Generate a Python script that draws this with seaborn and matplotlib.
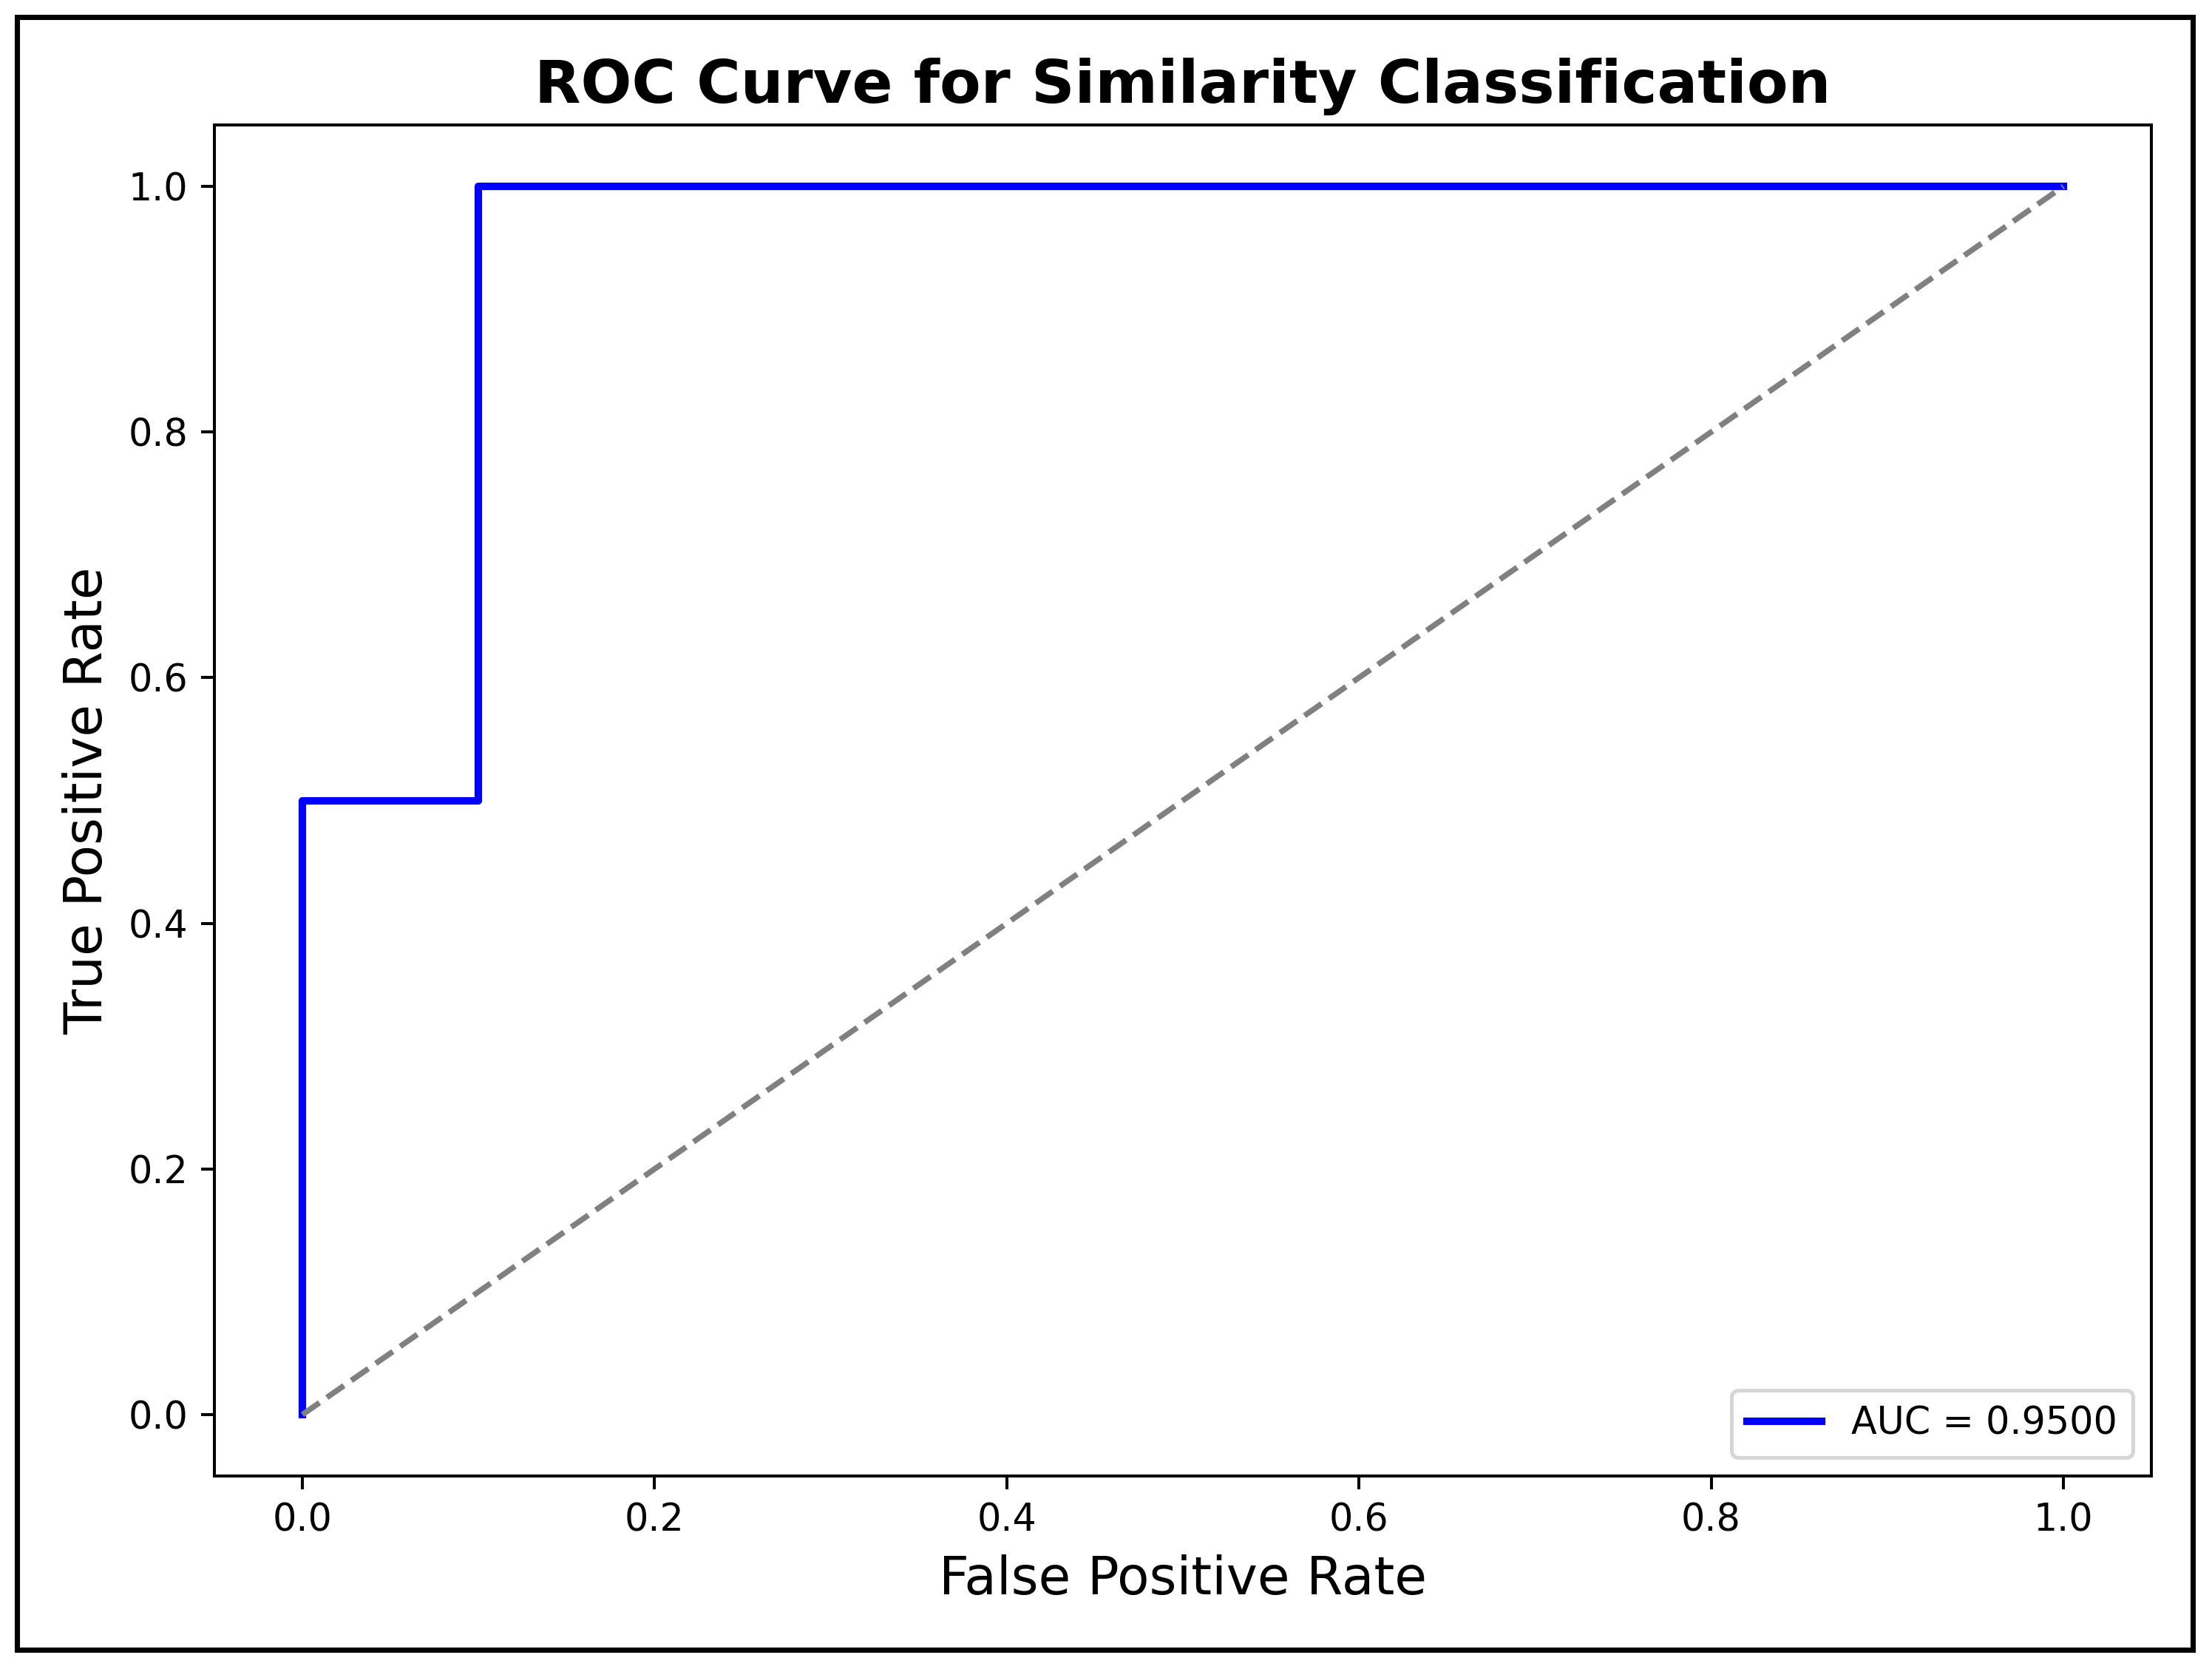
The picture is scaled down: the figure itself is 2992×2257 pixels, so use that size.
import matplotlib
matplotlib.use("Agg")
import matplotlib.pyplot as plt
from matplotlib.patches import Rectangle
import seaborn as sns
import pandas as pd

# ROC data
fpr = [0.0, 0.0, 0.1, 0.1, 1.0]
tpr = [0.0, 0.5, 0.5, 1.0, 1.0]
auc_value = 0.95
chance_x = [0.0, 1.0]
chance_y = [0.0, 1.0]
ticks = [0.0, 0.2, 0.4, 0.6, 0.8, 1.0]

plt.rcParams['font.family'] = ['DejaVu Sans']

W, H = 2993, 2257
DPI = 365
fig = plt.figure(figsize=(W / DPI, H / DPI), dpi=DPI)
fig.patch.set_facecolor('white')

left, right, top, bottom = 290, 2910, 169, 1996
ax = fig.add_axes([left / W, 1 - bottom / H, (right - left) / W, (bottom - top) / H])

df = pd.DataFrame({'fpr': fpr, 'tpr': tpr})
sns.lineplot(data=df, x='fpr', y='tpr', sort=False, estimator=None,
             color='blue', lw=2, label=f'AUC = {auc_value:.4f}', ax=ax)
ax.plot(chance_x, chance_y, color='gray', linestyle='--', lw=1.5)

ax.set_xlim(-0.05, 1.05)
ax.set_ylim(-0.05, 1.05)
ax.set_xticks(ticks)
ax.set_yticks(ticks)
ax.set_xlabel('False Positive Rate', fontsize=14)
ax.set_ylabel('True Positive Rate', fontsize=14)
ax.set_title('ROC Curve for Similarity Classification', fontsize=16, fontweight='bold')
ax.tick_params(labelsize=10)
ax.legend(loc='lower right', fontsize=10)

# outer frame around the whole picture
fig.patches.append(Rectangle((23 / W, 1 - 2231 / H), (2966 - 23) / W, (2231 - 23) / H,
                             transform=fig.transFigure, fill=False,
                             edgecolor='black', linewidth=1.4, zorder=10))

fig.savefig('out.png', dpi=DPI, facecolor='white')
